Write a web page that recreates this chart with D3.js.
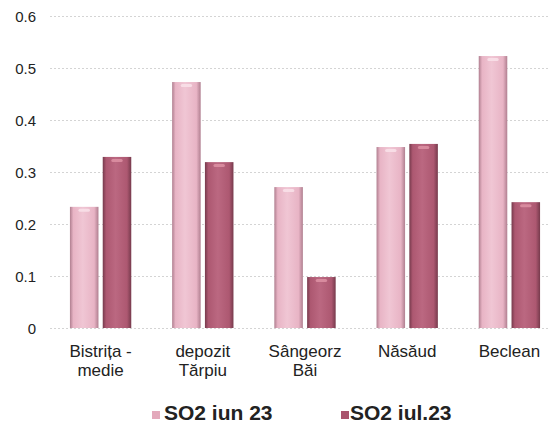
<!DOCTYPE html>
<html><head><meta charset="utf-8">
<script src="https://cdn.jsdelivr.net/npm/d3@7"></script>
<style>body{margin:0;background:#fff}svg{display:block}</style>
</head><body>
<svg id="c" width="548" height="423"></svg>
<script>
const categories = [["Bistrița -","medie"],["depozit","Tărpiu"],["Sângeorz","Băi"],["Năsăud"],["Beclean"]];
const seriesNames = ["SO2 iun 23","SO2 iul.23"];
const iun23 = [0.233, 0.473, 0.271, 0.348, 0.523];
const iul23 = [0.329, 0.319, 0.098, 0.354, 0.242];
const yTicks = [0, 0.1, 0.2, 0.3, 0.4, 0.5, 0.6];
const yTickLabels = ["0","0.1","0.2","0.3","0.4","0.5","0.6"];

const svg = d3.select("#c");
const W = 548, H = 423;
const y = d3.scaleLinear().domain([0, 0.6]).range([328, 16]);
const x0 = d3.scaleBand().domain(d3.range(categories.length)).range([49.5, 560.5]).paddingInner(0.4).paddingOuter(0.2);
const x1 = d3.scaleBand().domain([0,1]).range([0, x0.bandwidth()]).paddingInner(0.13);

const defs = svg.append("defs");
function grad(id, edge, mid, light){
  const g = defs.append("linearGradient").attr("id", id).attr("x1","0").attr("x2","1").attr("y1","0").attr("y2","0");
  g.append("stop").attr("offset","0").attr("stop-color", edge);
  g.append("stop").attr("offset","0.12").attr("stop-color", mid);
  g.append("stop").attr("offset","0.45").attr("stop-color", light);
  g.append("stop").attr("offset","0.85").attr("stop-color", mid);
  g.append("stop").attr("offset","1").attr("stop-color", edge);
}
grad("gL", "#b07f90", "#e8b4c5", "#f0c6d4");
grad("gD", "#763a4c", "#ad5871", "#bb6881");
const colors = ["url(#gL)", "url(#gD)"];
const topHi = ["#f8e0e8", "#dc8fa2"];

// gridlines
const grid = svg.append("g");
grid.selectAll("line").data(yTicks).join("line")
  .attr("x1", 50).attr("x2", W).attr("y1", d => Math.round(y(d))+0.5).attr("y2", d => Math.round(y(d))+0.5)
  .attr("stroke", "#d4d4d4").attr("stroke-width", 1).attr("stroke-dasharray", "2,2");

// y axis labels
const yAxis = d3.axisLeft(y).tickValues(yTicks).tickFormat((d,i) => yTickLabels[i]).tickSize(0).tickPadding(0);
const ya = svg.append("g").attr("transform", "translate(36,0)").call(yAxis);
ya.select(".domain").remove();
ya.selectAll("text").attr("font-family", "Liberation Sans, Arial, sans-serif").attr("font-size", 15).attr("fill", "#222").attr("dy", "0.35em");

// bars
const series = [iun23, iul23];
series.forEach((vals, s) => {
  const g = svg.append("g");
  g.selectAll("rect.bar").data(vals).join("rect").attr("class","bar")
    .attr("x", (d,i) => x0(i) + x1(s))
    .attr("y", d => y(d))
    .attr("width", x1.bandwidth())
    .attr("height", d => y(0) - y(d))
    .attr("fill", colors[s]);
  g.selectAll("rect.hi").data(vals).join("rect").attr("class","hi")
    .attr("x", (d,i) => x0(i) + x1(s) + x1.bandwidth()*0.3)
    .attr("y", d => y(d) + 2)
    .attr("width", x1.bandwidth()*0.4)
    .attr("height", 3)
    .attr("rx", 1.5)
    .attr("fill", topHi[s]).attr("opacity", 0.9);
});

// category labels
const xl = svg.append("g");
categories.forEach((lines, i) => {
  const cx = x0(i) + x0.bandwidth()/2;
  const t = xl.append("text").attr("x", cx).attr("y", 357).attr("text-anchor","middle")
    .attr("font-family", "Liberation Sans, Arial, sans-serif").attr("font-size", 17).attr("fill", "#222");
  lines.forEach((ln, j) => t.append("tspan").attr("x", cx).attr("dy", j === 0 ? 0 : 19).text(ln));
});

// legend
const legX = [152, 341];
const legColors = ["#e3a9bb", "#a9546d"];
seriesNames.forEach((n, s) => {
  const lg = svg.append("g").attr("transform", `translate(${legX[s]},0)`);
  lg.append("rect").attr("x", 0).attr("y", 411).attr("width", 8).attr("height", 8).attr("fill", legColors[s]);
  lg.append("text").attr("x", s === 0 ? 12 : 9).attr("y", 420).text(n)
    .attr("font-family", "Liberation Sans, Arial, sans-serif").attr("font-size", 21).attr("font-weight", "bold").attr("fill", "#222");
});
</script>
</body></html>
